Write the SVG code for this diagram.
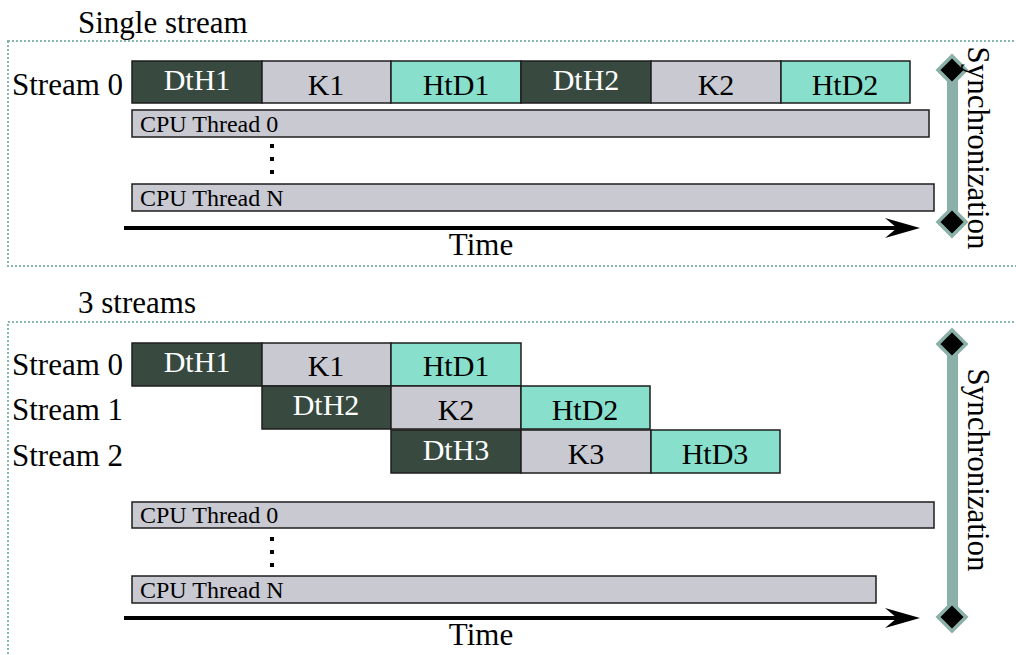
<svg xmlns="http://www.w3.org/2000/svg" width="1016" height="655" viewBox="0 0 1016 655">
<style>
.frame{fill:none;stroke:#86b8ae;stroke-width:2;stroke-dasharray:2 2}
.dth{fill:#384a3f;stroke:#1e1e1e;stroke-width:1.5}
.k{fill:#c9c9d2;stroke:#1e1e1e;stroke-width:1.5}
.htd{fill:#88e0cc;stroke:#1e1e1e;stroke-width:1.5}
.cpu{fill:#c9c9d2;stroke:#1e1e1e;stroke-width:1.5}
.t{font-family:"Liberation Serif","Times New Roman",serif;font-size:31px;fill:#000}
.bt{font-family:"Liberation Serif","Times New Roman",serif;font-size:30px;fill:#000;text-anchor:middle}
.wt{fill:#fff}
.ct{font-family:"Liberation Serif","Times New Roman",serif;font-size:24px;fill:#000}
.bar{fill:#8ab0a8}
.dia{fill:#000;stroke:#8ab0a8;stroke-width:3.5}
.axis{stroke:#000;stroke-width:4}
</style>
<defs>
<marker id="ah" markerUnits="userSpaceOnUse" markerWidth="40" markerHeight="24" refX="15" refY="11" orient="auto" overflow="visible">
<path d="M0,1 L35,11 L0,21 L12,11 Z" fill="#000"/>
</marker>
</defs>

<g id="panel-single">
<text class="t" x="78" y="33">Single stream</text>
<rect class="frame" x="8" y="41" width="1020" height="225"/>
</g>

<g id="stream0-label-top"><text class="t" x="12" y="95">Stream 0</text></g>
<g id="top-dth1"><rect class="dth" x="132" y="61" width="130" height="42"/><text class="bt wt" x="197" y="90">DtH1</text></g>
<g id="top-k1"><rect class="k" x="262" y="61" width="129" height="42"/><text class="bt" x="326" y="95">K1</text></g>
<g id="top-htd1"><rect class="htd" x="391" y="61" width="130" height="42"/><text class="bt" x="456" y="95">HtD1</text></g>
<g id="top-dth2"><rect class="dth" x="521" y="61" width="130" height="42"/><text class="bt wt" x="586" y="90">DtH2</text></g>
<g id="top-k2"><rect class="k" x="651" y="61" width="130" height="42"/><text class="bt" x="716" y="95">K2</text></g>
<g id="top-htd2"><rect class="htd" x="781" y="61" width="129" height="42"/><text class="bt" x="845" y="95">HtD2</text></g>

<g id="top-cpu0"><rect class="cpu" x="132" y="110" width="797" height="27"/><text class="ct" x="140" y="132">CPU Thread 0</text></g>
<g id="top-dots"><rect x="270" y="144" width="4" height="4"/><rect x="270" y="157" width="4" height="4"/><rect x="270" y="170" width="4" height="4"/></g>
<g id="top-cpuN"><rect class="cpu" x="132" y="184" width="802" height="27"/><text class="ct" x="140" y="206">CPU Thread N</text></g>

<g id="top-sync">
<rect class="bar" x="947" y="70" width="11" height="152"/>
<path class="dia" d="M952,56 L966,70 L952,84 L938,70 Z"/>
<path class="dia" d="M952,208 L966,222 L952,236 L938,222 Z"/>
<text class="t" text-anchor="middle" transform="translate(968,148) rotate(90)">Synchronization</text>
</g>

<g id="panel-3streams">
<text class="t" x="78" y="313">3 streams</text>
<rect class="frame" x="8" y="322" width="1020" height="360"/>
</g>

<g id="s0-label"><text class="t" x="12" y="375">Stream 0</text></g>
<g id="s1-label"><text class="t" x="12" y="420">Stream 1</text></g>
<g id="s2-label"><text class="t" x="12" y="466">Stream 2</text></g>

<g id="b-dth1"><rect class="dth" x="132" y="343" width="130" height="43"/><text class="bt wt" x="197" y="372">DtH1</text></g>
<g id="b-k1"><rect class="k" x="262" y="343" width="129" height="43"/><text class="bt" x="326" y="376">K1</text></g>
<g id="b-htd1"><rect class="htd" x="391" y="343" width="130" height="43"/><text class="bt" x="456" y="376">HtD1</text></g>

<g id="b-dth2"><rect class="dth" x="262" y="386" width="129" height="43"/><text class="bt wt" x="326" y="415">DtH2</text></g>
<g id="b-k2"><rect class="k" x="391" y="386" width="130" height="43"/><text class="bt" x="456" y="420">K2</text></g>
<g id="b-htd2"><rect class="htd" x="521" y="386" width="129" height="43"/><text class="bt" x="585" y="420">HtD2</text></g>

<g id="b-dth3"><rect class="dth" x="391" y="430" width="130" height="43"/><text class="bt wt" x="456" y="460">DtH3</text></g>
<g id="b-k3"><rect class="k" x="521" y="430" width="130" height="43"/><text class="bt" x="586" y="464">K3</text></g>
<g id="b-htd3"><rect class="htd" x="651" y="430" width="129" height="43"/><text class="bt" x="715" y="464">HtD3</text></g>

<g id="b-cpu0"><rect class="cpu" x="132" y="502" width="802" height="26"/><text class="ct" x="140" y="523">CPU Thread 0</text></g>
<g id="b-dots"><rect x="270" y="537" width="4" height="4"/><rect x="270" y="550" width="4" height="4"/><rect x="270" y="563" width="4" height="4"/></g>
<g id="b-cpuN"><rect class="cpu" x="132" y="576" width="744" height="27"/><text class="ct" x="140" y="598">CPU Thread N</text></g>

<g id="b-sync">
<rect class="bar" x="947" y="344" width="11" height="273"/>
<path class="dia" d="M952,330 L966,344 L952,358 L938,344 Z"/>
<path class="dia" d="M952,603 L966,617 L952,631 L938,617 Z"/>
<text class="t" text-anchor="middle" transform="translate(968,470) rotate(90)">Synchronization</text>
</g>

<g id="connectors">
<line class="axis" x1="124" y1="228" x2="900" y2="228" marker-end="url(#ah)"/>
<line class="axis" x1="124" y1="618" x2="900" y2="618" marker-end="url(#ah)"/>
</g>
<g id="time-labels">
<text class="t" text-anchor="middle" x="481" y="255">Time</text>
<text class="t" text-anchor="middle" x="481" y="645">Time</text>
</g>
</svg>
